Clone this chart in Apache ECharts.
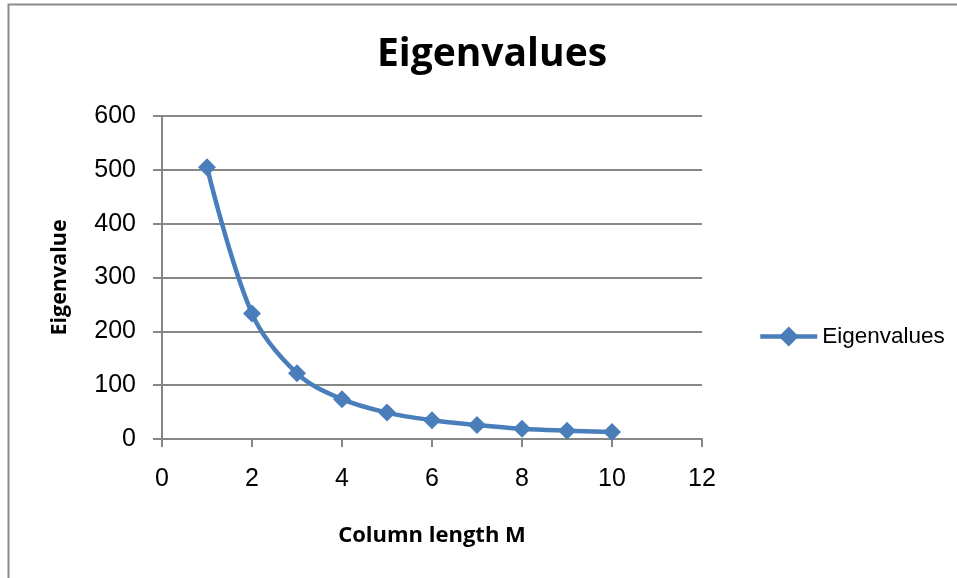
<!DOCTYPE html>
<html><head><meta charset="utf-8">
<script src="https://cdn.jsdelivr.net/npm/echarts@6/dist/echarts.min.js"></script>
<style>html,body{margin:0;padding:0;background:#fff}#c{width:957px;height:578px}</style>
</head><body><div id="c"></div>
<script>
var columnLength = [1, 2, 3, 4, 5, 6, 7, 8, 9, 10];
var eigenvalues = [505, 233, 122, 74, 49, 35, 26, 19, 15.5, 13];
var seriesName = 'Eigenvalues';

var chart = echarts.init(document.getElementById('c'));
var axisGray = '#868686';
chart.setOption({
  animation: false,
  title: {
    text: 'Eigenvalues', left: 487, top: 30, textAlign: 'center',
    textStyle: { fontFamily: 'Open Sans', fontWeight: 'bold', fontSize: 39, color: '#000' }
  },
  graphic: [{
    type: 'rect', shape: { x: 8.5, y: 4.5, width: 960, height: 590 },
    style: { fill: 'none', stroke: '#8c8c8c', lineWidth: 2 }, silent: true
  }],
  legend: {
    left: 753, top: 320, itemWidth: 57, itemHeight: 25, itemGap: 5,
    textStyle: { fontFamily: 'Liberation Sans', fontSize: 22.5, color: '#000' },
    lineStyle: { width: 4.5, color: '#4a7ebb' },
    itemStyle: { color: '#4a7ebb' },
    data: [seriesName]
  },
  grid: { left: 162, right: 255, top: 116, bottom: 139 },
  xAxis: {
    type: 'value', min: 0, max: 12, interval: 2,
    name: 'Column length M', nameLocation: 'middle', nameGap: 86,
    nameTextStyle: { fontFamily: 'Open Sans', fontWeight: 'bold', fontSize: 22, color: '#000' },
    axisLine: { lineStyle: { color: axisGray, width: 2 } },
    axisTick: { inside: false, length: 8, lineStyle: { color: axisGray, width: 2 } },
    axisLabel: { fontFamily: 'Liberation Sans', fontSize: 25, color: '#000', margin: 28 },
    splitLine: { show: false }
  },
  yAxis: {
    type: 'value', min: 0, max: 600, interval: 100,
    name: 'Eigenvalue', nameLocation: 'middle', nameGap: 91, nameRotate: 90,
    nameTextStyle: { fontFamily: 'Open Sans', fontWeight: 'bold', fontSize: 21.5, color: '#000' },
    axisLine: { show: true, lineStyle: { color: axisGray, width: 2 } },
    axisTick: { show: true, inside: false, length: 9, lineStyle: { color: axisGray, width: 2 } },
    axisLabel: { fontFamily: 'Liberation Sans', fontSize: 25, color: '#000', margin: 26 },
    splitLine: { show: true, lineStyle: { color: axisGray, width: 2 } }
  },
  series: [{
    name: seriesName, type: 'line', smooth: 0.35,
    data: columnLength.map(function (x, i) { return [x, eigenvalues[i]]; }),
    symbol: 'diamond', symbolSize: 18,
    lineStyle: { color: '#4a7ebb', width: 4.5 },
    itemStyle: { color: '#4a7ebb' }
  }]
});
</script></body></html>
